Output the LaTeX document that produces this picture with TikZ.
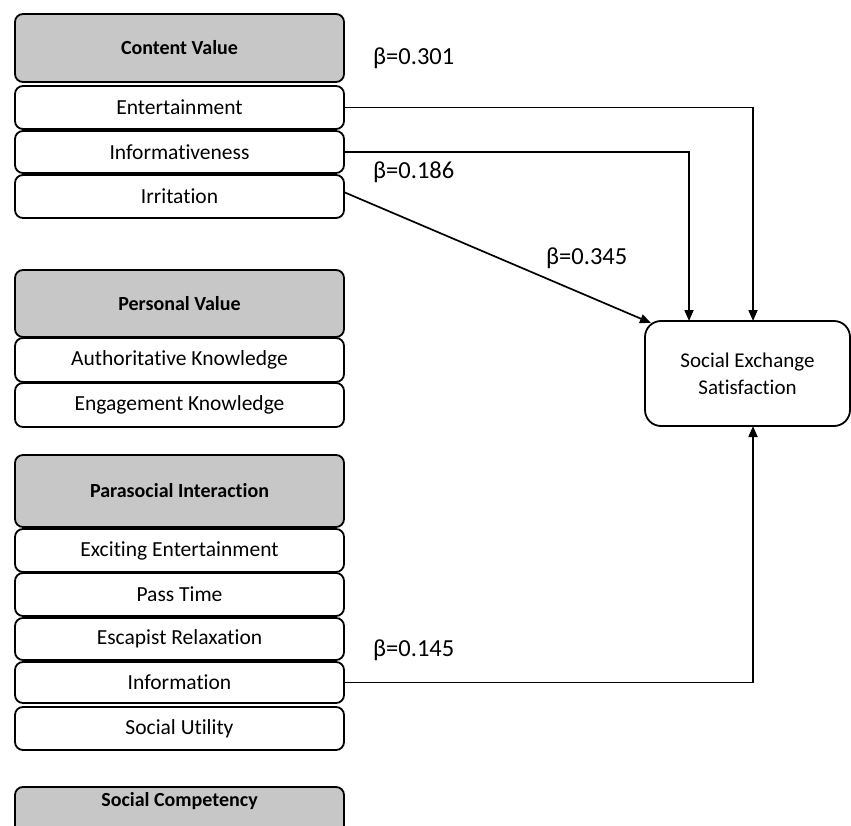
\documentclass[tikz,border=0pt]{standalone}
\usepackage{fontspec}
\setmainfont[Ligatures=NoCommon]{Carlito}
\usetikzlibrary{arrows.meta}
\begin{document}
\begin{tikzpicture}[x=1pt,y=-1pt,
  item/.style={draw=black, line width=1.8pt, rounded corners=8pt, fill=white,
    minimum width=329pt, inner sep=0pt, font=\fontsize{21.5}{25}\selectfont},
  head/.style={item, fill=black!22, font=\bfseries\fontsize{20}{24}\selectfont},
  headbox/.style={draw=black, line width=1.8pt, rounded corners=8pt, fill=black!22},
  target/.style={draw=black, line width=1.8pt, rounded corners=16pt, fill=white,
    minimum width=205pt, minimum height=105pt, align=center, inner sep=0pt,
    font=\fontsize{21}{27}\selectfont},
  link/.style={line width=1.7pt, -{Triangle[length=11pt,width=9pt]}},
  beta/.style={anchor=west, inner sep=0pt, font=\fontsize{24.5}{28}\selectfont}]
\clip (0,0) rectangle (851,826);
\fill[white] (0,0) rectangle (851,826);

% Content value block
\node[head, minimum height=68pt] (cv) at (179.5,48) {Content Value};
\node[item, minimum height=43pt] (ent) at (179.5,107.5) {Entertainment};
\node[item, minimum height=42pt] (inf) at (179.5,152) {Informativeness};
\node[item, minimum height=43pt] (irr) at (179.5,196.5) {Irritation};

% Personal value block
\node[head, minimum height=67pt] (pv) at (179.5,303.5) {Personal Value};
\node[item, minimum height=44pt] (auth) at (179.5,360) {Authoritative Knowledge};
\node[item, minimum height=44pt] (eng) at (179.5,405) {Engagement Knowledge};

% Parasocial interaction block
\node[head, minimum height=72pt] (psi) at (179.5,491) {Parasocial Interaction};
\node[item, minimum height=43pt] (exc) at (179.5,550.5) {Exciting Entertainment};
\node[item, minimum height=43pt] (pass) at (179.5,594.5) {Pass Time};
\node[item, minimum height=42pt] (esc) at (179.5,639) {Escapist Relaxation};
\node[item, minimum height=41pt] (info) at (179.5,682.5) {Information};
\node[item, minimum height=43pt] (util) at (179.5,728.5) {Social Utility};

% Social competency block, running past the lower edge
\draw[headbox] (15,787) rectangle (344,860);
\node[font=\bfseries\fontsize{20}{24}\selectfont, inner sep=0pt] (sc) at (179.5,801) {Social Competency};

% Outcome
\node[target] (ses) at (747.5,373.5) {Social Exchange\\Satisfaction};

% Arrow end points on the outcome box
\coordinate (inA) at (753,321);
\coordinate (inB) at (689,321);
\coordinate (inC) at (651,323);
\coordinate (inD) at (753,426);

% Paths
\draw[link] (ent.east) -| (inA);
\draw[link] (inf.east) -| (inB);
\draw[link] (irr.east) ++(0,-4) -- (inC);
\draw[link] (info.east) -| (inD);

% Path coefficients
\node[beta] (b1) at (373,58) {β=0.301};
\node[beta] (b2) at (373,172) {β=0.186};
\node[beta] (b3) at (546,258) {β=0.345};
\node[beta] (b4) at (373,650) {β=0.145};
\end{tikzpicture}
\end{document}
